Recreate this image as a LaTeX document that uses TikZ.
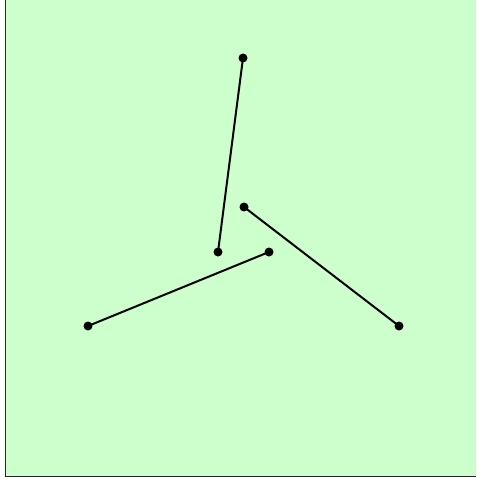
\documentclass[tikz,border=0pt]{standalone}
\begin{document}
\begin{tikzpicture}[x=0.75pt,y=-0.75pt]

% Cadre
\useasboundingbox (0,0) rectangle (476,481);
\fill[white] (0,0) rectangle (476,481);
\fill[green!20] (5,0) rectangle (476,477);
\draw[line width=1.2pt,black!85] (5.5,0) -- (5.5,476.5) -- (476,476.5);

% Points
\coordinate (haut) at (243,58);
\coordinate (centre) at (218,252);
\coordinate (milieu) at (244,207);
\coordinate (droite) at (399,326);
\coordinate (pivot) at (269,252);
\coordinate (gauche) at (88,326);

% Segments
\draw[line width=1.5pt] (haut) -- (centre);
\draw[line width=1.5pt] (milieu) -- (droite);
\draw[line width=1.5pt] (pivot) -- (gauche);

\foreach \p in {haut,centre,milieu,droite,pivot,gauche}
{
\fill (\p) circle (4.5);
}

\end{tikzpicture}
\end{document}
